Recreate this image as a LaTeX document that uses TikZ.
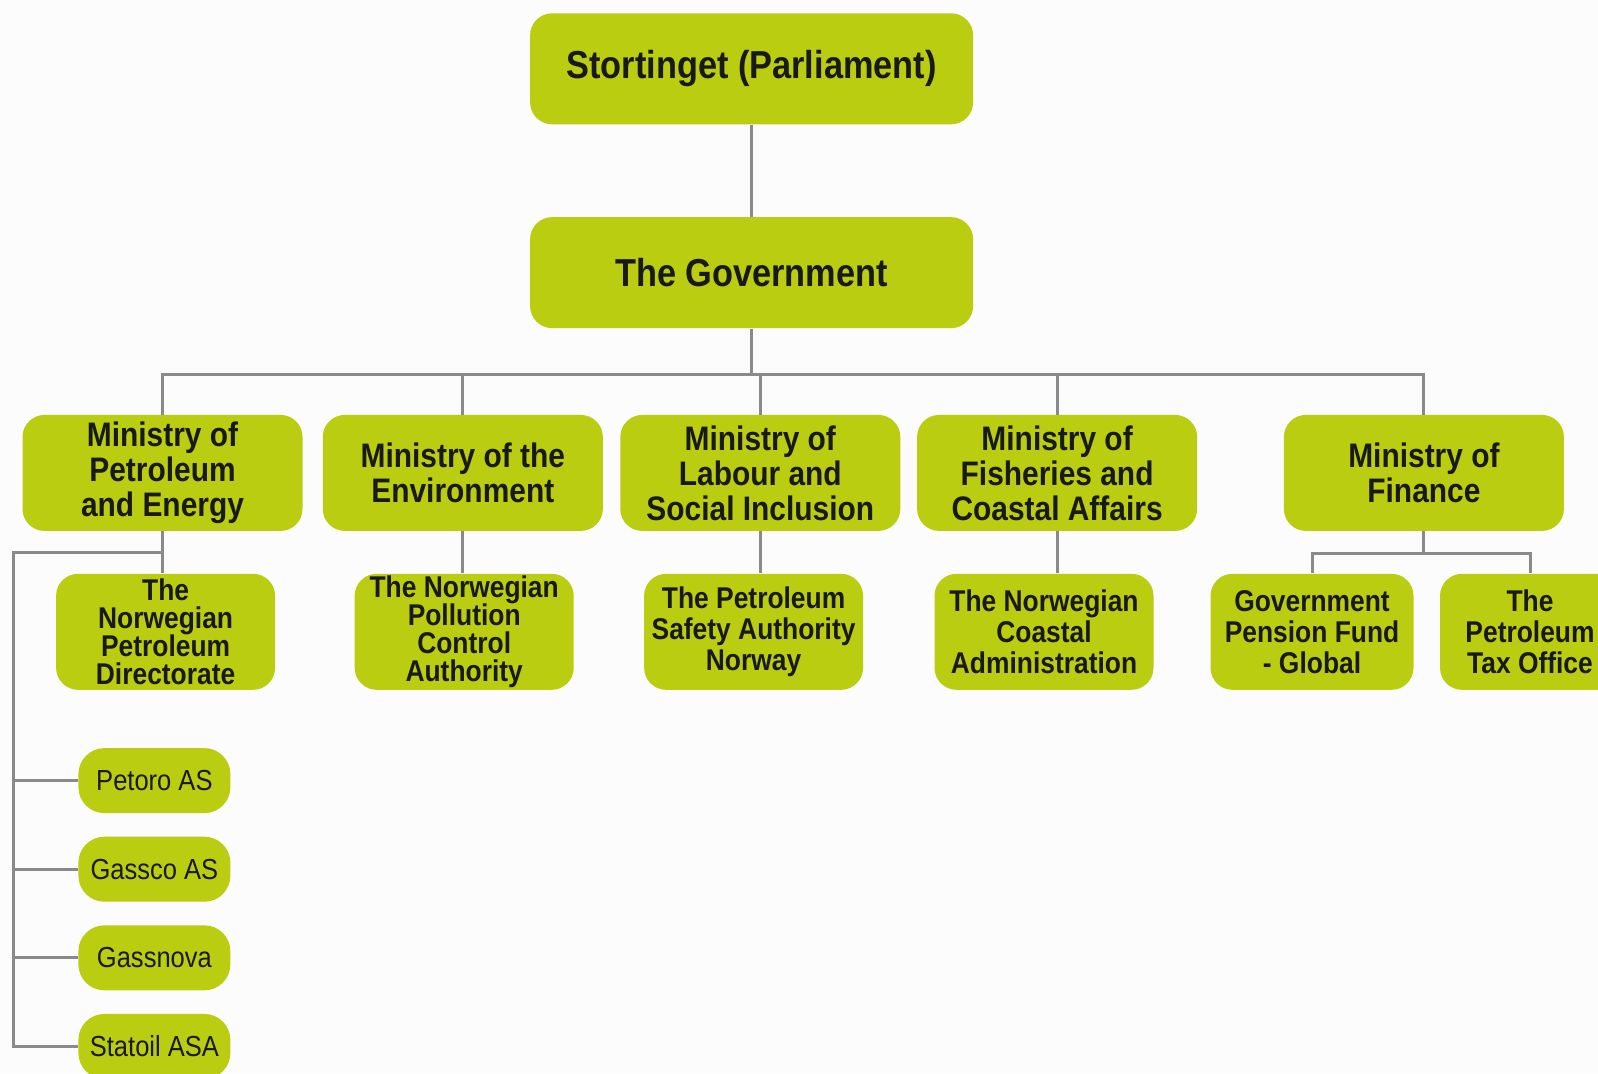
\documentclass[tikz,border=0pt]{standalone}
\usepackage{fontspec}
\usepackage{tikz}
\usetikzlibrary{positioning}
\newfontfamily\orgfont{Liberation Sans}[FakeStretch=0.88]
\definecolor{lime}{RGB}{186,205,16}
\definecolor{wire}{RGB}{138,138,140}
\definecolor{ink}{RGB}{25,25,25}
\definecolor{paper}{RGB}{252,252,252}

\begin{document}
\begin{tikzpicture}[x=0.5pt, y=-0.5pt,
    box/.style={fill=lime, text=ink, rounded corners=11pt, inner sep=0pt, align=center},
    head/.style={box, minimum width=221.5pt, minimum height=55.5pt, font=\orgfont\bfseries\fontsize{19.5}{21}\selectfont},
    ministry/.style={box, minimum width=140pt, minimum height=58pt, font=\orgfont\bfseries\fontsize{17}{17.5}\selectfont},
    sub/.style={box, minimum width=109.5pt, minimum height=58pt, font=\orgfont\bfseries\fontsize{15}{#1}\selectfont},
    sub/.default=15.5pt,
    company/.style={box, rounded corners=13pt, minimum width=76pt, minimum height=32.5pt, font=\orgfont\fontsize{14.5}{16}\selectfont},
    link/.style={draw=wire, line width=1.5pt}]

    \useasboundingbox (0,0) rectangle (1598,1073);
    \clip (0,0) rectangle (1598,1073);
    \fill[paper] (0,0) rectangle (1598,1073);

    \node[head] (parl) at (751.6,68.8) {Stortinget (Parliament)};
    \node[head, below=46pt of parl] (gov) {The Government};

    \node[ministry] (mpe) at (162.5,472.9) {Ministry of\\Petroleum\\and Energy};
    \node[ministry, right=9.75pt of mpe] (env) {Ministry of the\\Environment};
    \node[ministry, right=8.35pt of env] (lab) {Ministry of\\Labour and\\Social Inclusion};
    \node[ministry, right=8pt of lab] (fish) {Ministry of\\Fisheries and\\Coastal Affairs};
    \node[ministry, right=43pt of fish] (fin) {Ministry of\\Finance};

    \node[sub=14.1pt] (npd) at (165.6,631.8) {The\\Norwegian\\Petroleum\\Directorate};
    \node[sub=14.1pt] (npca) at (464.2,631.8) {The Norwegian\\Pollution\\Control\\Authority};
    \node[sub] (psa) at (753.6,631.8) {The Petroleum\\Safety Authority\\Norway};
    \node[sub] (kyv) at (1044,631.8) {The Norwegian\\Coastal\\Administration};
    \node[sub, minimum width=101.5pt] (gpfg) at (1312,631.8) {Government\\Pension Fund\\- Global};
    \node[sub, minimum width=90pt] (ptx) at (1530,631.8) {The\\Petroleum\\Tax Office};

    \node[company] (petoro) at (154.4,780.6) {Petoro AS};
    \node[company, below=11.4pt of petoro] (gassco) {Gassco AS};
    \node[company, below=11.4pt of gassco] (gassnova) {Gassnova};
    \node[company, below=11.4pt of gassnova] (statoil) {Statoil ASA};

    \draw[link] (parl) -- (gov);
    \draw[link] (gov.south) -- ++(0,46) coordinate (bus);
    \foreach \m in {mpe,env,lab,fish,fin}
        \draw[link] (bus) -| (\m.north);
    \foreach \m/\s in {mpe/npd,env/npca,lab/psa,fish/kyv}
        \draw[link] (\m.south) -- (\m.south |- \s.north);
    \draw[link] (fin.south) -- ++(0,22) coordinate (finsplit);
    \draw[link] (gpfg.north) |- (finsplit) -| (ptx.north);
    \coordinate (trunk) at (13,552);
    \draw[link] (mpe.south |- trunk) -- (trunk) |- (statoil.west);
    \foreach \c in {petoro,gassco,gassnova}
        \draw[link] (trunk |- \c.west) -- (\c.west);
\end{tikzpicture}
\end{document}
